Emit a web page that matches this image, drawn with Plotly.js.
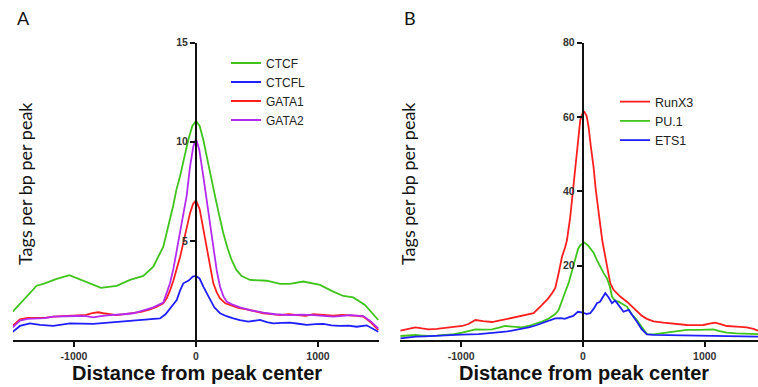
<!DOCTYPE html>
<html>
<head>
<meta charset="utf-8">
<script src="https://cdn.plot.ly/plotly-3.0.1.min.js"></script>
<style>html,body{margin:0;padding:0;background:#fff;}#chart{width:758px;height:387px;}</style>
</head>
<body>
<div id="chart"></div>
<script>
// ---------- Panel A data ----------
const ctcfX = [-1502,-1415,-1306,-1251,-1142,-1038,-924,-779,-650,-541,-432,-350,-268,-213,-186,-160,-131,-100,-63,-30,0,30,60,90,115,140,165,190,224,260,292,330,374,443,580,689,770,880,1016,1125,1207,1289,1385,1494];
const ctcfY = [1.43,2.02,2.74,2.83,3.08,3.27,3.0,2.63,2.73,3.03,3.23,3.70,4.71,6.06,6.8,7.6,8.25,9.1,10.1,10.8,11.05,10.8,10.1,9.2,8.4,7.7,7.0,6.3,5.39,4.6,4.04,3.55,3.23,3.03,2.99,2.83,2.83,2.95,2.78,2.44,2.22,2.15,1.77,1.01];

const ctcflX = [-1511,-1443,-1361,-1279,-1170,-1033,-842,-705,-541,-377,-295,-250,-213,-158,-130,-104,-60,-27,0,30,60,88,115,150,197,250,306,360,429,525,580,634,700,770,840,907,980,1044,1110,1180,1250,1317,1399,1494];
const ctcflY = [0.37,0.71,0.84,0.76,0.71,0.84,0.81,0.88,0.93,1.01,1.09,1.3,1.60,2.02,2.5,2.86,3.0,3.2,3.23,3.1,2.69,2.35,2.02,1.65,1.35,1.2,1.09,1.0,0.93,1.01,0.9,0.84,0.86,0.88,0.82,0.76,0.8,0.81,0.74,0.71,0.72,0.67,0.74,0.42];

const gata1X = [-1511,-1443,-1380,-1306,-1240,-1170,-1080,-978,-900,-850,-800,-760,-700,-650,-580,-514,-450,-377,-320,-268,-240,-213,-185,-158,-130,-104,-77,-49,-25,0,30,60,88,115,142,170,197,240,279,345,415,480,552,620,689,760,825,900,962,1040,1125,1200,1262,1320,1371,1430,1494];
const gata1Y = [0.67,1.04,1.12,1.14,1.12,1.18,1.2,1.26,1.27,1.36,1.4,1.35,1.3,1.26,1.3,1.35,1.42,1.55,1.68,1.85,2.1,2.5,3.0,3.6,4.2,4.9,5.7,6.4,6.85,7.05,6.6,5.6,4.6,3.6,2.86,2.4,2.1,1.85,1.77,1.62,1.55,1.45,1.35,1.3,1.26,1.3,1.26,1.22,1.3,1.27,1.23,1.27,1.26,1.22,1.18,0.9,0.51];

const gata2X = [-1511,-1443,-1380,-1306,-1240,-1170,-1080,-978,-900,-842,-780,-705,-600,-514,-430,-350,-268,-213,-185,-158,-130,-104,-90,-76,-49,-22,0,27,60,88,101,115,142,170,197,225,251,300,361,450,552,650,770,860,962,1040,1125,1200,1262,1320,1371,1430,1494];
const gata2Y = [0.59,0.98,1.07,1.09,1.1,1.18,1.2,1.21,1.2,1.14,1.2,1.26,1.3,1.35,1.5,1.65,1.89,2.86,3.6,4.55,5.5,6.4,6.9,7.3,8.75,9.76,10.15,9.6,8.25,7.07,6.5,5.8,4.55,3.5,2.69,2.2,1.94,1.78,1.65,1.5,1.38,1.3,1.26,1.28,1.26,1.22,1.18,1.22,1.26,1.23,1.21,0.95,0.59];

// ---------- Panel B data ----------
const runx3X = [-1498,-1440,-1375,-1320,-1266,-1200,-1129,-1060,-992,-940,-883,-820,-746,-690,-637,-540,-446,-405,-336,-290,-254,-227,-200,-172,-145,-131,-104,-82,-63,-40,-22,0,11,30,46,65,87,105,128,142,160,175,197,224,251,306,361,415,443,480,525,580,661,750,852,920,989,1040,1084,1130,1180,1260,1344,1400,1437];
const runx3Y = [2.5,3.0,3.41,3.1,2.87,3.0,3.32,3.5,3.77,4.3,5.38,5.1,4.84,5.2,5.56,6.1,6.73,7.2,9.42,11.0,12.6,14.0,17.9,22.4,25.1,26.9,33.2,40.4,46.6,54.0,59.2,61.3,61.4,60.3,57.4,52.0,46.6,40.5,33.5,31.0,26.5,24.0,19.5,15.3,13.5,11.7,10.3,8.5,7.6,6.6,5.7,5.0,4.67,4.3,4.04,4.0,4.04,4.4,4.67,4.3,3.77,3.6,3.41,3.0,2.5];

const pu1X = [-1498,-1440,-1375,-1320,-1266,-1200,-1129,-1060,-992,-940,-883,-820,-746,-690,-637,-580,-500,-446,-390,-336,-290,-254,-227,-200,-172,-145,-118,-90,-63,-40,-22,0,11,40,65,87,115,142,170,197,220,238,265,292,330,361,400,443,480,525,580,661,750,852,960,1020,1071,1120,1180,1260,1344,1437];
const pu1Y = [1.08,1.2,1.35,1.2,1.08,1.2,1.35,1.6,1.97,2.4,2.87,2.8,2.87,3.3,3.77,3.6,3.41,3.77,4.3,4.93,5.6,6.28,7.0,8.07,10.8,13.0,15.3,18.5,22.0,24.5,25.5,26.0,26.2,25.5,24.5,23.5,21.5,19.7,18.0,16.6,14.5,11.7,10.5,10.3,9.5,9.0,7.0,5.4,3.6,1.6,1.5,1.8,2.2,2.7,2.75,2.9,2.87,2.4,1.97,1.8,1.7,1.6];

const ets1X = [-1498,-1440,-1375,-1300,-1200,-1129,-1000,-855,-800,-746,-680,-620,-582,-520,-446,-390,-336,-280,-227,-180,-150,-118,-80,-41,-22,0,30,60,90,115,140,160,183,210,238,265,290,333,374,410,443,480,525,580,716,850,989,1100,1250,1437];
const ets1Y = [0.45,0.7,0.9,1.0,1.2,1.35,1.45,1.6,1.7,1.97,2.1,2.3,2.5,2.9,3.41,3.9,4.48,5.2,5.83,5.9,5.7,6.1,6.5,7.6,7.6,7.4,7.0,7.2,8.5,9.9,10.3,11.5,12.6,11.5,9.9,10.6,9.5,7.6,8.1,6.5,4.9,3.0,1.5,1.4,1.35,1.25,1.17,1.1,1.0,0.9];

const xTicks = [-1000, 0, 1000];
const xTickText = ['-1000', '0', '1000'];
const yTicksA = [5, 10, 15];
const yTicksB = [20, 40, 60, 80];

const GREEN = '#3fc41c', BLUE = '#1f1fff', RED = '#ff1f1f', PURPLE = '#b42af0';
const LW = 1.8;

function tr(x, y, name, color, xa, ya, leg) {
  return {x: x, y: y, name: name, type: 'scatter', mode: 'lines',
          line: {color: color, width: LW}, xaxis: xa, yaxis: ya, legend: leg};
}

const data = [
  tr(ctcfX, ctcfY, 'CTCF', GREEN, 'x', 'y', 'legend'),
  tr(ctcflX, ctcflY, 'CTCFL', BLUE, 'x', 'y', 'legend'),
  tr(gata1X, gata1Y, 'GATA1', RED, 'x', 'y', 'legend'),
  tr(gata2X, gata2Y, 'GATA2', PURPLE, 'x', 'y', 'legend'),
  tr(runx3X, runx3Y, 'RunX3', RED, 'x2', 'y2', 'legend2'),
  tr(pu1X, pu1Y, 'PU.1', GREEN, 'x2', 'y2', 'legend2'),
  tr(ets1X, ets1Y, 'ETS1', BLUE, 'x2', 'y2', 'legend2')
];

const W = 758, H = 387;
const tickFont = {family: 'Liberation Sans, Arial, sans-serif', size: 10.5, color: '#333', weight: 'bold'};
const yDom = [(H - 340) / H, (H - 42.7) / H];

function xax(domain, range, anchor) {
  return {domain: domain, range: range, anchor: anchor, tickvals: xTicks, ticktext: xTickText,
          ticks: 'outside', ticklen: 5, tickwidth: 2, tickcolor: '#111', showline: true,
          linewidth: 2, linecolor: '#111', showgrid: false, zeroline: false,
          tickfont: tickFont, fixedrange: true};
}
function yax(range, tickvals, pos) {
  return {domain: yDom, range: range, anchor: 'free', position: pos, tickvals: tickvals,
          ticks: 'outside', ticklen: 5, tickwidth: 2, tickcolor: '#111', showline: true,
          linewidth: 2.2, linecolor: '#111', showgrid: false, zeroline: false,
          tickfont: tickFont, fixedrange: true};
}

const titleFontX = {family: 'Liberation Sans, Arial, sans-serif', size: 20, color: '#111', weight: 'bold'};
const titleFontY = {family: 'Lato, Open Sans, sans-serif', size: 18, color: '#111'};
const panelFont = {family: 'Lato, Open Sans, sans-serif', size: 18, color: '#111'};

const layout = {
  width: W, height: H,
  margin: {l: 0, r: 0, t: 0, b: 0},
  paper_bgcolor: '#fff', plot_bgcolor: 'rgba(0,0,0,0)',
  showlegend: true,
  xaxis: xax([13 / W, 379 / W], [-1500, 1500], 'y'),
  yaxis: yax([0, 15], yTicksA, 196 / W),
  xaxis2: xax([399.5 / W, 1], [-1506, 1437], 'y2'),
  yaxis2: yax([0, 80], yTicksB, 582.7 / W),
  legend: {x: 226 / W, y: (H - 91.5) / H, xanchor: 'left', yanchor: 'middle',
           bgcolor: 'rgba(0,0,0,0)', borderwidth: 0,
           font: {family: 'Liberation Sans, Arial, sans-serif', size: 12, color: '#222'}},
  legend2: {x: 615 / W, y: (H - 121) / H, xanchor: 'left', yanchor: 'middle',
            bgcolor: 'rgba(0,0,0,0)', borderwidth: 0,
            font: {family: 'Liberation Sans, Arial, sans-serif', size: 12.5, color: '#222'}},
  annotations: [
    {text: 'A', xref: 'paper', yref: 'paper', x: 23.5 / W, y: (H - 18) / H, showarrow: false, font: panelFont, xanchor: 'center', yanchor: 'middle'},
    {text: 'B', xref: 'paper', yref: 'paper', x: 410 / W, y: (H - 18) / H, showarrow: false, font: panelFont, xanchor: 'center', yanchor: 'middle'},
    {text: 'Distance from peak center', xref: 'paper', yref: 'paper', x: 196.5 / W, y: (H - 373) / H, showarrow: false, font: titleFontX, xanchor: 'center', yanchor: 'middle'},
    {text: 'Distance from peak center', xref: 'paper', yref: 'paper', x: 584 / W, y: (H - 373) / H, showarrow: false, font: titleFontX, xanchor: 'center', yanchor: 'middle'},
    {text: 'Tags per bp per peak', xref: 'paper', yref: 'paper', x: 25 / W, y: (H - 184) / H, showarrow: false, font: titleFontY, textangle: -90, xanchor: 'center', yanchor: 'middle'},
    {text: 'Tags per bp per peak', xref: 'paper', yref: 'paper', x: 408 / W, y: (H - 184) / H, showarrow: false, font: titleFontY, textangle: -90, xanchor: 'center', yanchor: 'middle'}
  ]
};

Plotly.newPlot('chart', data, layout, {staticPlot: true, displayModeBar: false});
</script>
</body>
</html>
